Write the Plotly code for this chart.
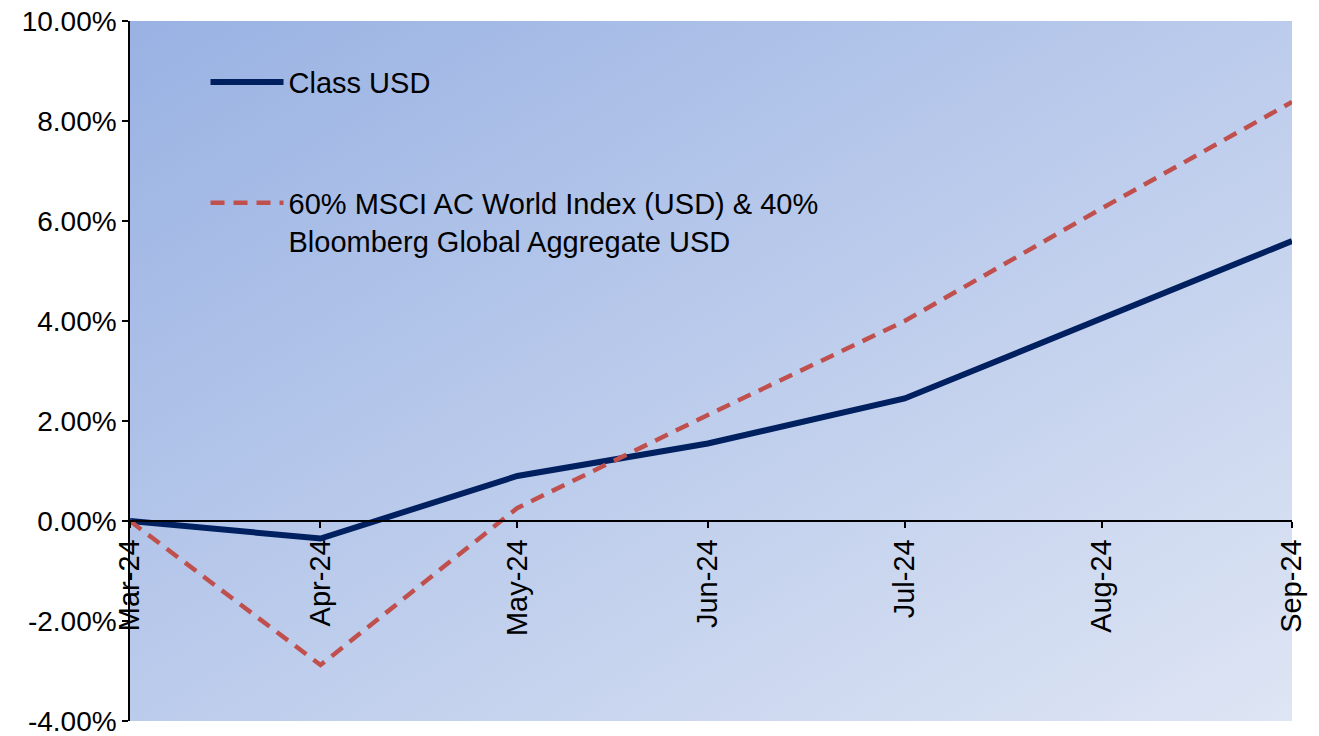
import base64
import plotly.graph_objects as go

# ---- data ----
dates = ["2024-03-31", "2024-04-30", "2024-05-31", "2024-06-30",
         "2024-07-31", "2024-08-31", "2024-09-30"]
tick_labels = ["Mar-24", "Apr-24", "May-24", "Jun-24", "Jul-24", "Aug-24", "Sep-24"]
class_usd = [0.0, -0.35, 0.90, 1.55, 2.45, 4.05, 5.60]
benchmark = [0.0, -2.88, 0.26, 2.12, 4.00, 6.25, 8.38]
y_ticks = [-4, -2, 0, 2, 4, 6, 8, 10]

series_class_name = "Class USD"
series_bench_name = "60% MSCI AC World Index (USD) & 40%<br>Bloomberg Global Aggregate USD"

FONT = "Liberation Sans, Arial, sans-serif"

svg = ('<svg xmlns="http://www.w3.org/2000/svg" width="100" height="100" '
       'viewBox="0 0 100 100" preserveAspectRatio="none">'
       '<defs><linearGradient id="g" x1="0" y1="0" x2="1" y2="1">'
       '<stop offset="0" stop-color="#99B2E3"/>'
       '<stop offset="1" stop-color="#DEE5F4"/>'
       '</linearGradient></defs>'
       '<rect x="0" y="0" width="100" height="100" fill="url(#g)"/></svg>')
bg_uri = "data:image/svg+xml;base64," + base64.b64encode(svg.encode()).decode()

fig = go.Figure()
fig.add_trace(go.Scatter(
    x=dates, y=class_usd, mode="lines", name=series_class_name,
    legendgroup="a",
    line=dict(color="#002060", width=6),
))
fig.add_trace(go.Scatter(
    x=dates, y=benchmark, mode="lines", name=series_bench_name,
    legendgroup="b",
    line=dict(color="#C0504D", width=4.5, dash="14px,9px"),
))

fig.update_layout(
    width=1319, height=736,
    margin=dict(l=130, r=27, t=21, b=15, autoexpand=False),
    paper_bgcolor="white",
    plot_bgcolor="rgba(0,0,0,0)",
    font=dict(family=FONT, size=28, color="black"),
    images=[dict(source=bg_uri, xref="paper", yref="paper", x=0, y=1,
                 sizex=1, sizey=1, sizing="stretch", layer="below",
                 xanchor="left", yanchor="top")],
    legend=dict(x=0.065, y=0.949, xanchor="left", yanchor="top",
                bgcolor="rgba(0,0,0,0)", traceorder="grouped",
                itemwidth=73, valign="top",
                tracegroupgap=80, font=dict(family=FONT, size=29)),
    showlegend=True,
)

fig.update_xaxes(
    type="date",
    range=[dates[0], dates[-1]],
    tickvals=dates, ticktext=tick_labels,
    tickangle=-90,
    anchor="free", position=2 / 7,
    automargin=False, ticklabeloverflow="allow",
    showline=True, linecolor="black", linewidth=1.5,
    ticks="outside", ticklen=6, tickcolor="black", tickwidth=1.5,
    showgrid=False, zeroline=False,
    tickfont=dict(family=FONT, size=29),
)
fig.update_yaxes(
    range=[-4, 10],
    tickvals=y_ticks, ticktext=[f"{v:.2f}%" for v in y_ticks],
    automargin=False, ticklabeloverflow="allow",
    showline=True, linecolor="black", linewidth=1.5,
    ticks="outside", ticklen=6, tickcolor="black", tickwidth=1.5,
    showgrid=False, zeroline=False,
    tickfont=dict(family=FONT, size=28),
)

fig.write_html("out.html",
               config={"displayModeBar": False},
               post_script="document.body.style.margin='0';document.body.style.padding='0';")
